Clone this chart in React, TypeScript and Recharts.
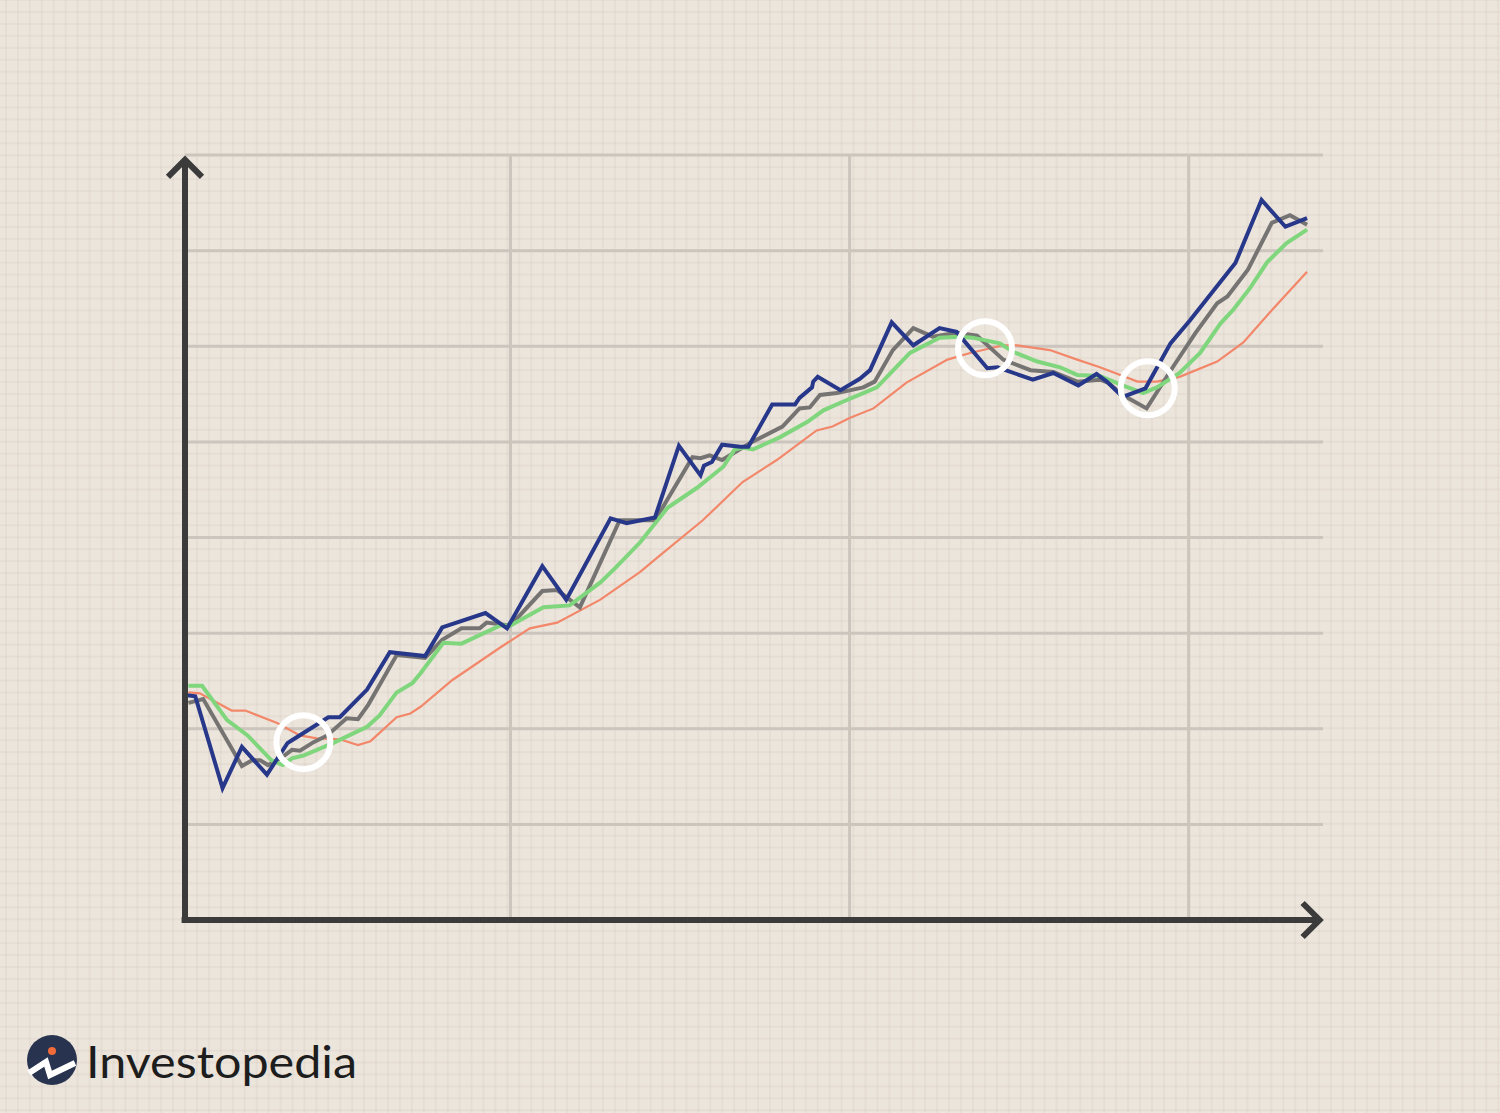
import React from "react";
import {
  LineChart,
  Line,
  XAxis,
  YAxis,
  ReferenceLine,
  ReferenceDot,
} from "recharts";

// price and three moving averages, x in trading days, y in price units
const priceDays = [
  0.2, 0.9, 3.3, 5.0, 7.2, 9.0, 9.4, 12.6, 13.6, 16.0, 18.0, 21.1, 22.6, 26.4,
  28.3, 31.4, 33.5, 37.4, 38.8, 41.3, 43.4, 45.3, 45.6, 46.3, 47.2, 48.8, 49.5,
  51.6, 53.6, 54.0, 55.1, 55.2, 55.6, 57.6, 59.3, 60.2, 62.1, 64.0, 66.3, 67.8,
  70.5, 71.4, 74.5, 76.3, 78.5, 80.1, 81.0, 82.4, 84.4, 86.6, 88.3, 92.3, 94.6,
  96.7, 98.6,
];
const priceValues = [
  2.35, 2.34, 1.38, 1.81, 1.52, 1.85, 1.88, 2.12, 2.12, 2.41, 2.8, 2.76, 3.06,
  3.21, 3.05, 3.7, 3.35, 4.2, 4.15, 4.21, 4.96, 4.65, 4.75, 4.79, 4.97, 4.95,
  4.95, 5.39, 5.39, 5.46, 5.57, 5.63, 5.68, 5.54, 5.66, 5.75, 6.25, 6.01, 6.19,
  6.15, 5.77, 5.78, 5.65, 5.72, 5.59, 5.71, 5.63, 5.47, 5.56, 6.03, 6.27, 6.87,
  7.53, 7.25, 7.34,
];

const fastDays = [
  0.3, 1.6, 5.0, 5.9, 6.6, 7.3, 8.4, 9.4, 10.1, 11.3, 12.5, 14.2, 15.2, 16.1,
  18.6, 21.1, 22.6, 24.3, 25.9, 26.5, 28.6, 31.4, 32.7, 34.7, 38.2, 40.0, 41.3,
  44.6, 45.3, 46.1, 47.2, 49.7, 52.5, 54.0, 54.9, 55.8, 57.3, 59.6, 60.6, 62.2,
  64.0, 65.7, 67.8, 69.6, 71.9, 74.3, 76.3, 78.4, 80.4, 81.1, 82.4, 84.5, 86.8,
  88.8, 90.7, 91.6, 93.4, 95.5, 97.1, 98.6,
];
const fastValues = [
  2.27, 2.31, 1.61, 1.67, 1.67, 1.62, 1.69, 1.78, 1.77, 1.86, 1.93, 2.11, 2.1,
  2.25, 2.77, 2.74, 2.93, 3.05, 3.05, 3.11, 3.08, 3.44, 3.45, 3.27, 4.18, 4.18,
  4.18, 4.84, 4.83, 4.86, 4.81, 4.99, 5.16, 5.35, 5.36, 5.49, 5.51, 5.57, 5.63,
  5.96, 6.19, 6.1, 6.14, 6.11, 5.86, 5.75, 5.73, 5.63, 5.65, 5.62, 5.49, 5.35,
  5.78, 6.14, 6.45, 6.52, 6.8, 7.29, 7.37, 7.27,
];

const midDays = [
  0.3, 1.5, 3.7, 5.5, 7.6, 8.6, 9.4, 10.4, 13.0, 16.0, 17.1, 18.6, 20.0, 20.7,
  22.7, 24.3, 27.7, 28.6, 31.5, 33.8, 36.5, 37.8, 40.0, 42.4, 45.0, 47.3, 48.3,
  49.0, 49.9, 52.3, 54.7, 56.1, 57.8, 59.6, 60.8, 63.7, 66.3, 68.1, 69.2, 71.6,
  72.8, 74.9, 76.9, 78.4, 80.4, 82.4, 84.2, 85.4, 87.4, 89.2, 91.0, 92.1, 93.6,
  95.1, 96.8, 98.6,
];
const midValues = [
  2.45, 2.45, 2.09, 1.93, 1.67, 1.62, 1.69, 1.72, 1.85, 2.02, 2.14, 2.38, 2.48,
  2.58, 2.9, 2.89, 3.08, 3.08, 3.27, 3.29, 3.53, 3.68, 3.95, 4.31, 4.52, 4.74,
  4.92, 4.94, 4.92, 5.05, 5.21, 5.33, 5.42, 5.51, 5.57, 5.93, 6.09, 6.1, 6.09,
  6.03, 5.94, 5.84, 5.78, 5.7, 5.69, 5.59, 5.51, 5.57, 5.72, 5.93, 6.24, 6.38,
  6.61, 6.88, 7.08, 7.22,
];

const slowDays = [
  0.3, 1.3, 4.1, 5.3, 8.1, 10.1, 11.6, 13.6, 15.2, 16.3, 18.6, 19.8, 20.7, 23.5,
  27.7, 30.3, 32.7, 36.5, 40.0, 41.5, 45.5, 49.0, 52.0, 55.5, 56.9, 58.4, 60.5,
  63.4, 67.0, 69.0, 71.9, 73.1, 76.0, 78.4, 80.4, 83.7, 85.4, 87.4, 90.7, 93.0,
  95.3, 98.6,
];
const slowValues = [
  2.38, 2.37, 2.19, 2.19, 2.06, 1.93, 1.9, 1.89, 1.83, 1.87, 2.12, 2.16, 2.23,
  2.51, 2.85, 3.05, 3.11, 3.35, 3.64, 3.79, 4.18, 4.58, 4.81, 5.12, 5.16, 5.25,
  5.35, 5.62, 5.86, 5.93, 6.01, 6.01, 5.96, 5.86, 5.78, 5.63, 5.63, 5.68, 5.84,
  6.04, 6.35, 6.78,
];

// crossover markers
const crossDays = [10.4, 70.3, 84.6];
const crossValues = [1.86, 5.98, 5.56];

const gridValues = [1, 2, 3, 4, 5, 6, 7, 8];
const gridDays = [28.6, 58.4, 88.2];

const toData = (days: number[], values: number[]) =>
  days.map((t, i) => ({ t, v: values[i] }));

const priceData = toData(priceDays, priceValues);
const fastData = toData(fastDays, fastValues);
const midData = toData(midDays, midValues);
const slowData = toData(slowDays, slowValues);

const AXIS = "#3b3b3b";
const GRID = "#cbc5be";

const UpArrow = (props: { cx?: number; cy?: number }) => {
  const { cx = 0, cy = 0 } = props;
  return (
    <path
      d={`M${cx - 17},${cy + 17} L${cx},${cy} L${cx + 17},${cy + 17}`}
      fill="none"
      stroke={AXIS}
      strokeWidth={6}
    />
  );
};

const RightArrow = (props: { cx?: number; cy?: number }) => {
  const { cx = 0, cy = 0 } = props;
  return (
    <path
      d={`M${cx - 17},${cy - 17} L${cx},${cy} L${cx - 17},${cy + 17}`}
      fill="none"
      stroke={AXIS}
      strokeWidth={6}
    />
  );
};

const Logo = () => (
  <svg
    width={400}
    height={100}
    style={{ position: "absolute", left: 0, top: 1013 }}
  >
    <circle cx={52} cy={47} r={25} fill="#27334f" />
    <circle cx={52} cy={38} r={4} fill="#f06a3a" />
    <polyline
      points="29,60 46,49 50,62 75,50"
      fill="none"
      stroke="#fff"
      strokeWidth={6}
      strokeLinejoin="miter"
    />
    <text
      x={86}
      y={65}
      fontFamily="Lato, 'Noto Sans', sans-serif"
      fontSize={44}
      fill="#1d1d1d"
      textLength={271}
      lengthAdjust="spacingAndGlyphs"
    >
      Investopedia
    </text>
  </svg>
);

export default function App() {
  return (
    <div
      style={{
        position: "absolute",
        left: 0,
        top: 0,
        width: 1500,
        height: 1113,
        backgroundColor: "#ece5dc",
        backgroundImage:
          "linear-gradient(to right, rgba(150,125,105,0.07) 2px, transparent 2px), linear-gradient(to bottom, rgba(150,125,105,0.07) 2px, transparent 2px)",
        backgroundSize: "11.95px 11.95px",
        backgroundPosition: "5px 11px",
        overflow: "hidden",
      }}
    >
      <LineChart
        width={1500}
        height={1113}
        margin={{ top: 155, right: 177, bottom: 193, left: 185 }}
      >
        <XAxis dataKey="t" type="number" domain={[0, 100]} hide />
        <YAxis type="number" domain={[0, 8]} hide />

        {gridValues.map((g) => (
          <ReferenceLine key={`h${g}`} y={g} stroke={GRID} strokeWidth={3} />
        ))}
        {gridDays.map((g) => (
          <ReferenceLine key={`v${g}`} x={g} stroke={GRID} strokeWidth={3} />
        ))}

        <Line
          data={slowData}
          dataKey="v"
          type="linear"
          stroke="#f2876a"
          strokeWidth={2.2}
          dot={false}
          isAnimationActive={false}
        />
        <Line
          data={fastData}
          dataKey="v"
          type="linear"
          stroke="#767473"
          strokeWidth={4}
          dot={false}
          isAnimationActive={false}
        />
        <Line
          data={midData}
          dataKey="v"
          type="linear"
          stroke="#7fd67d"
          strokeWidth={4}
          dot={false}
          isAnimationActive={false}
        />
        <Line
          data={priceData}
          dataKey="v"
          type="linear"
          stroke="#27378a"
          strokeWidth={4}
          dot={false}
          isAnimationActive={false}
        />

        {crossDays.map((d, i) => (
          <ReferenceDot
            key={`c${i}`}
            x={d}
            y={crossValues[i]}
            r={27}
            fill="none"
            stroke="#ffffff"
            strokeWidth={6}
          />
        ))}

        <ReferenceLine
          segment={[
            { x: -0.3, y: 0 },
            { x: 99.7, y: 0 },
          ]}
          stroke={AXIS}
          strokeWidth={6}
          ifOverflow="visible"
        />
        <ReferenceLine
          segment={[
            { x: 0, y: -0.03 },
            { x: 0, y: 7.95 },
          ]}
          stroke={AXIS}
          strokeWidth={6}
          ifOverflow="visible"
        />
        <ReferenceDot
          x={0}
          y={7.95}
          r={1}
          ifOverflow="visible"
          shape={(p: any) => <UpArrow cx={p.cx} cy={p.cy} />}
        />
        <ReferenceDot
          x={99.7}
          y={0}
          r={1}
          ifOverflow="visible"
          shape={(p: any) => <RightArrow cx={p.cx} cy={p.cy} />}
        />
      </LineChart>
      <Logo />
    </div>
  );
}
